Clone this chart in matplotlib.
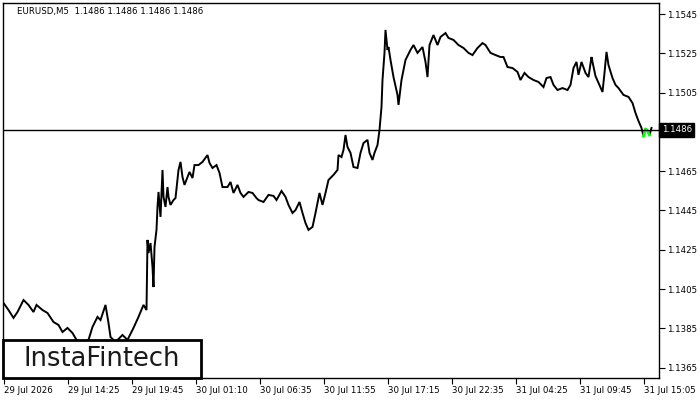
import matplotlib
matplotlib.use("Agg")
import matplotlib.pyplot as plt
from matplotlib.patches import Rectangle

# bar number (M5 bars from the left edge) and the price
bars = [0, 5, 10, 14, 20, 25, 30, 33, 39, 44, 50, 55, 59, 64, 69, 73, 79, 85, 89, 94,
        97, 102, 105, 107, 112, 119, 124, 130, 135, 140, 143, 144, 145, 147, 149, 150, 151, 153, 154, 155,
        157, 159, 160, 162, 164, 165, 167, 170, 172, 174, 175, 177, 179, 181, 184, 186, 189, 191, 195, 199,
        204, 206, 209, 213, 216, 219, 224, 227, 230, 234, 237, 240, 245, 249, 253, 255, 260, 265, 270, 273,
        278, 282, 285, 289, 292, 296, 299, 302, 305, 309, 312, 316, 319, 322, 325, 330, 334, 335, 338, 340,
        342, 344, 347, 350, 354, 357, 360, 364, 366, 369, 371, 374, 376, 378, 379, 381, 382, 384, 385, 387,
        390, 394, 395, 398, 402, 407, 410, 414, 419, 422, 424, 426, 430, 434, 437, 442, 445, 450, 455, 460,
        465, 469, 474, 479, 482, 487, 492, 497, 500, 504, 509, 514, 517, 521, 525, 530, 535, 540, 543, 547,
        550, 554, 559, 564, 567, 570, 573, 575, 578, 582, 585, 588, 589, 592, 595, 599, 601, 603, 605, 609,
        612, 615, 620, 625, 629, 632, 635, 638, 640, 642, 644, 646, 648]
close = [1.13979, 1.13943, 1.13903, 1.13933, 1.13994, 1.13969, 1.13933, 1.13969, 1.13943, 1.13928,
         1.13882, 1.13867, 1.13831, 1.13852, 1.13826, 1.13791, 1.13780, 1.13791, 1.13857, 1.13908,
         1.13892, 1.13969, 1.13877, 1.13806, 1.13780, 1.13816, 1.13791, 1.13852, 1.13908, 1.13969,
         1.13943, 1.14300, 1.14233, 1.14284, 1.14162, 1.14060, 1.14264, 1.14351, 1.14468, 1.14544,
         1.14417, 1.14656, 1.14519, 1.14468, 1.14569, 1.14519, 1.14478, 1.14503, 1.14513, 1.14605,
         1.14656, 1.14697, 1.14620, 1.14580, 1.14620, 1.14646, 1.14615, 1.14681, 1.14681, 1.14697,
         1.14732, 1.14692, 1.14666, 1.14681, 1.14641, 1.14569, 1.14569, 1.14595, 1.14539, 1.14580,
         1.14539, 1.14519, 1.14544, 1.14539, 1.14513, 1.14503, 1.14493, 1.14529, 1.14524, 1.14503,
         1.14549, 1.14519, 1.14478, 1.14437, 1.14452, 1.14493, 1.14437, 1.14386, 1.14351, 1.14366,
         1.14437, 1.14539, 1.14478, 1.14539, 1.14605, 1.14631, 1.14656, 1.14732, 1.14722, 1.14758,
         1.14834, 1.14773, 1.14743, 1.14671, 1.14666, 1.14743, 1.14793, 1.14809, 1.14743, 1.14707,
         1.14743, 1.14783, 1.14860, 1.14977, 1.15114, 1.15252, 1.15369, 1.15267, 1.15282, 1.15216,
         1.15129, 1.15038, 1.14987, 1.15114, 1.15216, 1.15267, 1.15292, 1.15252, 1.15282, 1.15206,
         1.15129, 1.15292, 1.15343, 1.15292, 1.15333, 1.15353, 1.15328, 1.15318, 1.15292, 1.15277,
         1.15252, 1.15241, 1.15277, 1.15302, 1.15292, 1.15252, 1.15241, 1.15231, 1.15231, 1.15180,
         1.15175, 1.15155, 1.15114, 1.15150, 1.15129, 1.15114, 1.15104, 1.15078, 1.15124, 1.15129,
         1.15089, 1.15063, 1.15073, 1.15063, 1.15089, 1.15175, 1.15206, 1.15140, 1.15206, 1.15150,
         1.15129, 1.15231, 1.15206, 1.15134, 1.15099, 1.15053, 1.15150, 1.15257, 1.15190, 1.15124,
         1.15089, 1.15073, 1.15038, 1.15028, 1.14997, 1.14946, 1.14905, 1.14870, 1.14829, 1.14865,
         1.14855, 1.14834, 1.14870]
signal_from, signal_to = 640, 646   # bars painted green

time_ticks = [0, 64, 128, 192, 256, 320, 384, 448, 512, 576, 640]
time_labels = ["29 Jul 2026", "29 Jul 14:25", "29 Jul 19:45", "30 Jul 01:10", "30 Jul 06:35",
               "30 Jul 11:55", "30 Jul 17:15", "30 Jul 22:35", "31 Jul 04:25", "31 Jul 09:45",
               "31 Jul 15:05"]
price_ticks = [1.1365, 1.1385, 1.1405, 1.1425, 1.1445, 1.1465, 1.1505, 1.1525, 1.1545]
current = 1.1486
title = "EURUSD,M5  1.1486 1.1486 1.1486 1.1486"

plt.rcParams["font.family"] = "DejaVu Sans"
fig = plt.figure(figsize=(7, 4), dpi=100)
ax = fig.add_axes([3 / 700, 22 / 400, 656 / 700, 375 / 400])

ax.plot(bars, close, color="black", lw=1.4, solid_joinstyle="miter")
sig = [i for i, b in enumerate(bars) if signal_from <= b <= signal_to]
ax.plot([bars[i] for i in sig], [close[i] for i in sig], color="#00ff00", lw=2)
ax.axhline(current, color="black", lw=1)

ax.set_xlim(-0.5, 655.5)
ax.set_ylim(1.13597, 1.15506)

ax.yaxis.tick_right()
ax.set_yticks(price_ticks)
ax.set_yticklabels([f"{p:.4f}" for p in price_ticks])
ax.set_xticks(time_ticks)
ax.set_xticklabels(time_labels, ha="left")
ax.tick_params(axis="both", direction="out", length=4, width=0.8, labelsize=6.2, pad=2,
               colors="black")
for s in ax.spines.values():
    s.set_linewidth(1)

ax.text(1.004, current, f"{current:.4f}", transform=ax.get_yaxis_transform(), fontsize=6.2,
        color="white", va="center", ha="left",
        bbox=dict(boxstyle="square,pad=0.3", fc="black", ec="black"))
ax.text(0.022, 0.978, title, transform=ax.transAxes, fontsize=6.2, va="center", ha="left")

# logo box, bottom left
logo = Rectangle((0, 0), 198 / 656, 38 / 375, transform=ax.transAxes, fc="white", ec="black",
                 lw=2, zorder=5, clip_on=False)
ax.add_patch(logo)
ax.text(99 / 656, 19 / 375, "InstaFintech", transform=ax.transAxes, fontsize=18.5,
        color="#1a1a1a", ha="center", va="center", zorder=6)

fig.savefig("out.png", dpi=100)
